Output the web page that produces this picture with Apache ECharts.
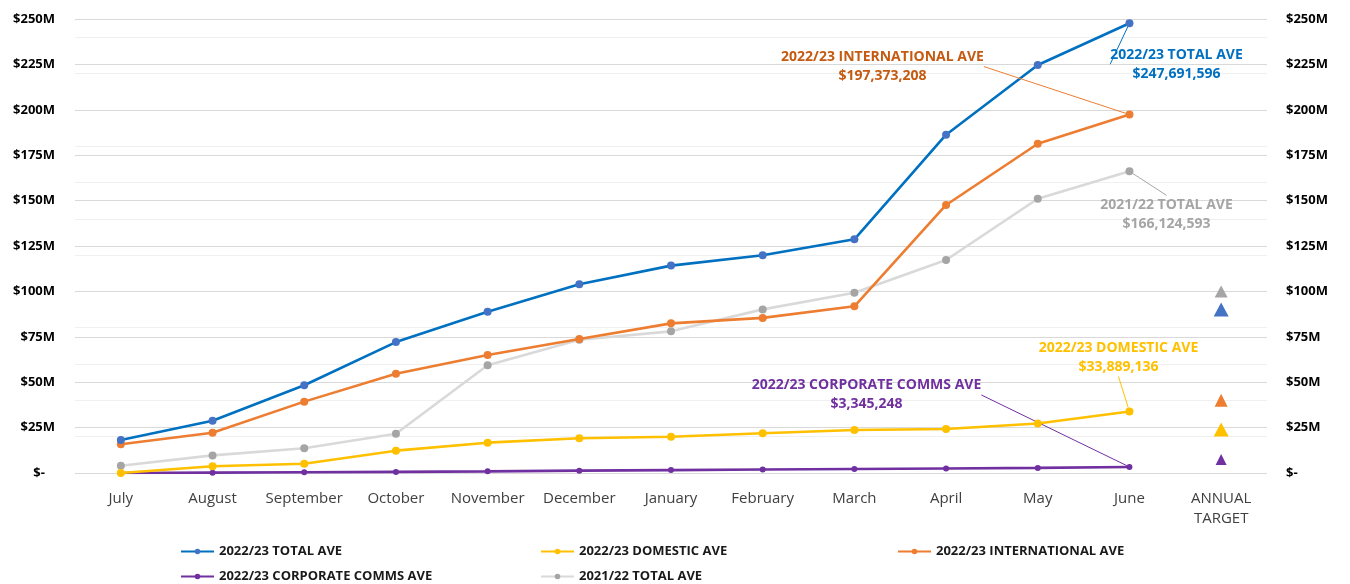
<!doctype html>
<html lang="en">
<head>
<meta charset="utf-8">
<title>AVE by month</title>
<script src="https://cdn.jsdelivr.net/npm/echarts@6/dist/echarts.min.js"></script>
<style>
  html, body { margin: 0; padding: 0; background: #fff; }
  #chart { width: 1350px; height: 584px; }
</style>
</head>
<body>
<div id="chart"></div>
<script>
// values in $M (June values are the labelled totals)
const months = ['July', 'August', 'September', 'October', 'November', 'December',
                'January', 'February', 'March', 'April', 'May', 'June', 'ANNUAL\nTARGET'];
const total2223 = [18.2, 28.8, 48.3, 72.1, 88.8, 103.9, 114.2, 119.9, 128.7, 186.3, 224.7, 247.691596];
const intl2223 = [15.8, 22.2, 39.3, 54.7, 65.0, 73.8, 82.4, 85.4, 91.8, 147.6, 181.3, 197.373208];
const domestic2223 = [0.0, 3.7, 5.1, 12.3, 16.7, 19.1, 20.0, 21.9, 23.7, 24.2, 27.3, 33.889136];
const corporate2223 = [0.0, 0.2, 0.4, 0.6, 0.9, 1.3, 1.6, 1.9, 2.2, 2.5, 2.8, 3.345248];
const total2122 = [4.0, 9.7, 13.6, 21.6, 59.3, 73.4, 78.0, 90.1, 99.3, 117.3, 151.0, 166.124593];
// annual targets: 2021/22 total, 2022/23 total, international, domestic, corporate
const targets = [100, 90, 40, 24, 7.5];
const yTicks = [0, 25, 250]; // min, step, max

const names = {
  total: '2022/23 TOTAL AVE',
  dom: '2022/23 DOMESTIC AVE',
  intl: '2022/23 INTERNATIONAL AVE',
  corp: '2022/23 CORPORATE COMMS AVE',
  prev: '2021/22 TOTAL AVE'
};

const FONT = '"Open Sans", "Noto Sans", sans-serif';
const last = months.length - 2; // June

function money(v) {
  return '$' + Math.round(v * 1e6).toLocaleString('en-US');
}

// series data with only the June point labelled
function withEndLabel(arr, color) {
  return arr.map(function (v, i) {
    if (i !== last) return v;
    return { value: v, label: { show: true, color: color } };
  });
}

function lineSeries(name, arr, lineColor, dotColor, labelColor, guideColor, size, shift) {
  return {
    name: name,
    type: 'line',
    yAxisIndex: 1,
    data: withEndLabel(arr, labelColor),
    symbol: 'circle',
    symbolSize: size,
    lineStyle: { color: lineColor, width: 2.6 },
    itemStyle: { color: dotColor },
    label: {
      show: false,
      position: 'inside',
      fontFamily: FONT,
      fontWeight: 'bold',
      fontSize: 14,
      lineHeight: 19,
      align: 'center',
      formatter: function (p) { return name + '\n' + money(p.value); }
    },
    labelLayout: { dx: shift[0], dy: shift[1] },
    labelLine: { show: true, lineStyle: { color: guideColor, width: 1 } },
    emphasis: { disabled: true }
  };
}

const targetColors = ['#A5A5A5', '#4472C4', '#ED7D31', '#FFC000', '#7030A0'];
const targetSizes = [[13, 12], [15, 14], [13, 13], [15, 14], [11, 11]];

// one legend box per entry, laid out as in the original 3-column grid
function legendItem(name, left, top) {
  return {
    left: left, top: top,
    padding: 0,
    data: [name],
    itemWidth: 33, itemHeight: 7,
    selectedMode: false,
    textStyle: { fontFamily: FONT, fontWeight: 'bold', fontSize: 13, color: '#1a1a1a' }
  };
}

const chart = echarts.init(document.getElementById('chart'));

const option = {
  animation: false,
  textStyle: { fontFamily: FONT },
  grid: { left: 75, right: 83, top: 19, bottom: 111 },
  legend: [
    legendItem(names.total, 180, 545),
    legendItem(names.dom, 540, 545),
    legendItem(names.intl, 897, 545),
    legendItem(names.corp, 180, 570),
    legendItem(names.prev, 540, 570)
  ],
  xAxis: {
    type: 'category',
    data: months,
    boundaryGap: true,
    axisLine: { show: false },
    axisTick: { show: false },
    axisLabel: { interval: 0, color: '#404040', fontSize: 15, margin: 16, lineHeight: 20, fontFamily: FONT }
  },
  yAxis: [
    { // faint secondary gridlines
      type: 'value', min: 0, max: yTicks[2], interval: 20,
      axisLabel: { show: false }, axisLine: { show: false }, axisTick: { show: false },
      splitLine: { lineStyle: { color: '#F0F0F0', width: 1 } }
    },
    {
      type: 'value', position: 'left', min: yTicks[0], max: yTicks[2], interval: yTicks[1],
      axisLine: { show: false }, axisTick: { show: false },
      splitLine: { lineStyle: { color: '#D9D9D9', width: 1 } },
      axisLabel: {
        margin: 20, color: '#000', fontWeight: 'bold', fontSize: 13, fontFamily: FONT,
        formatter: function (v) { return v === 0 ? '$-   ' : '$' + v + 'M'; }
      }
    },
    {
      type: 'value', position: 'right', min: yTicks[0], max: yTicks[2], interval: yTicks[1],
      axisLine: { show: false }, axisTick: { show: false },
      splitLine: { show: false },
      axisLabel: {
        margin: 19, color: '#000', fontWeight: 'bold', fontSize: 13, fontFamily: FONT,
        formatter: function (v) { return v === 0 ? '$-' : '$' + v + 'M'; }
      }
    }
  ],
  series: [
    lineSeries(names.prev, total2122, '#D9D9D9', '#A5A5A5', '#A5A5A5', '#A5A5A5', 8, [37, 43]),
    lineSeries(names.corp, corporate2223, '#7030A0', '#7030A0', '#7030A0', '#7030A0', 6, [-263, -72]),
    lineSeries(names.dom, domestic2223, '#FFC000', '#FFC000', '#FFC000', '#FFC000', 8, [-11, -54]),
    lineSeries(names.intl, intl2223, '#ED7D31', '#ED7D31', '#C55A11', '#ED7D31', 8, [-247, -48]),
    lineSeries(names.total, total2223, '#0070C0', '#4472C4', '#0070C0', '#0070C0', 8, [47, 41]),
    {
      name: 'ANNUAL TARGET',
      type: 'scatter',
      yAxisIndex: 1,
      symbol: 'triangle',
      data: targets.map(function (v, i) {
        return {
          value: [months.length - 1, v],
          symbolSize: targetSizes[i],
          itemStyle: { color: targetColors[i], opacity: 1 }
        };
      }),
      emphasis: { disabled: true },
      z: 3
    }
  ]
};

chart.setOption(option);
</script>
</body>
</html>
